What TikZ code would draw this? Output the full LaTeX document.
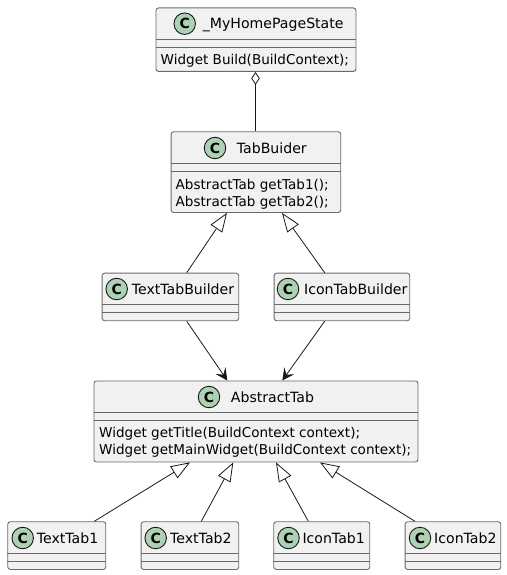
\documentclass[tikz,border=0pt]{standalone}
\usepackage{fontspec}
\setmainfont{DejaVu Sans}
\usetikzlibrary{arrows.meta,calc}
\definecolor{boxfill}{HTML}{F1F1F1}
\definecolor{boxline}{HTML}{6A6A6A}
\definecolor{spot}{HTML}{ADD1B2}
\definecolor{ink}{HTML}{181818}
\tikzset{
  classbox/.style={draw=boxline,fill=boxfill,line width=0.9pt,rounded corners=2.5pt,inner sep=0pt,anchor=north west},
  divider/.style={draw=boxline,line width=0.9pt},
  spotc/.style={circle,draw=ink,fill=spot,line width=0.9pt,minimum size=21.5pt,inner sep=0pt,font=\fontsize{14}{14}\selectfont\bfseries,text=black},
  title/.style={anchor=base west,inner sep=0pt,font=\fontsize{14.1}{15}\selectfont,text=black},
  member/.style={anchor=base west,inner sep=0pt,font=\fontsize{13.55}{15}\selectfont,text=black},
  link/.style={draw=ink,line width=0.8pt},
  extends/.style={link,{Triangle[open,length=19pt,width=14pt,fill=white]}-},
  aggregates/.style={link,{Diamond[open,length=13pt,width=8.5pt,fill=white]}-},
  depends/.style={link,-{Stealth[length=12pt,width=12pt,inset=5pt]}}
}
% name, left, top, width, height, divider1 offset, divider2 offset
\newcommand{\classnode}[7]{%
  \node[classbox,minimum width=#4pt,minimum height=#5pt] (#1) at (#2,#3) {};
  \draw[divider] ([yshift=-#6pt]#1.north west) -- ([yshift=-#6pt]#1.north east);
  \draw[divider] ([yshift=-#7pt]#1.north west) -- ([yshift=-#7pt]#1.north east);
}
\begin{document}
\begin{tikzpicture}[x=1pt,y=-1pt]
\useasboundingbox (0,0) rectangle (506,575);
\classnode{home}{155.5}{7.5}{200}{63.5}{32}{40}
\classnode{builder}{170.7}{131.3}{169.6}{80.7}{32}{40}
\classnode{textb}{101.7}{272.7}{136.6}{47.6}{32}{40}
\classnode{iconb}{273.7}{272.7}{135.6}{47.6}{32}{40}
\classnode{abs}{93.5}{380.5}{324}{81}{32}{40}
\classnode{tt1}{7.3}{521.3}{98}{47.7}{32}{40}
\classnode{tt2}{140.7}{521.3}{97.6}{47.7}{32}{40}
\classnode{it1}{273.3}{521.3}{96}{47.7}{32}{40}
\classnode{it2}{404.7}{521.3}{95.6}{47.7}{32}{40}

\node[spotc] (homec) at (184.7,23.7) {C};
\node[title] (homet) at (202.7,29) {\_MyHomePageState};
\node[member] (homem) at (160.5,65) {Widget Build(BuildContext);};
\node[spotc] (builderc) at (215,148) {C};
\node[title] (buildert) at (236.7,153.3) {TabBuider};
\node[member] (builderm1) at (175.5,189.3) {AbstractTab getTab1();};
\node[member] (builderm2) at (175.5,206) {AbstractTab getTab2();};
\node[spotc] (textbc) at (116.7,289) {C};
\node[title] (textbt) at (131.7,294) {TextTabBuilder};
\node[spotc] (iconbc) at (288,289) {C};
\node[title] (iconbt) at (304,294) {IconTabBuilder};
\node[spotc] (absc) at (209,397) {C};
\node[title] (abst) at (230.7,402) {AbstractTab};
\node[member] (absm1) at (99,437.5) {Widget getTitle(BuildContext context);};
\node[member] (absm2) at (99,454.5) {Widget getMainWidget(BuildContext context);};
\node[spotc] (tt1c) at (22.7,538) {C};
\node[title] (tt1t) at (36.7,543.3) {TextTab1};
\node[spotc] (tt2c) at (155.7,538) {C};
\node[title] (tt2t) at (170,543.3) {TextTab2};
\node[spotc] (it1c) at (288.5,538) {C};
\node[title] (it1t) at (302.3,543.3) {IconTab1};
\node[spotc] (it2c) at (420,538) {C};
\node[title] (it2t) at (434,543.3) {IconTab2};

\draw[aggregates] ([xshift=100pt]home.south west) -- ([xshift=84.8pt]builder.north west);
\draw[extends] ([xshift=56.3pt]builder.south west) -- ([xshift=85pt]textb.north west);
\draw[extends] ([xshift=111.3pt]builder.south west) -- ([xshift=51pt]iconb.north west);
\draw[depends] ([xshift=85pt]textb.south west) -- ([xshift=133.8pt]abs.north west);
\draw[depends] ([xshift=51pt]iconb.south west) -- ([xshift=188.8pt]abs.north west);
\draw[extends] ([xshift=96.5pt]abs.south west) -- ([xshift=87pt]tt1.north west);
\draw[extends] ([xshift=139.8pt]abs.south west) -- ([xshift=60.6pt]tt2.north west);
\draw[extends] ([xshift=182.5pt]abs.south west) -- ([xshift=35pt]it1.north west);
\draw[extends] ([xshift=226.5pt]abs.south west) -- ([xshift=10.3pt]it2.north west);
\end{tikzpicture}
\end{document}
